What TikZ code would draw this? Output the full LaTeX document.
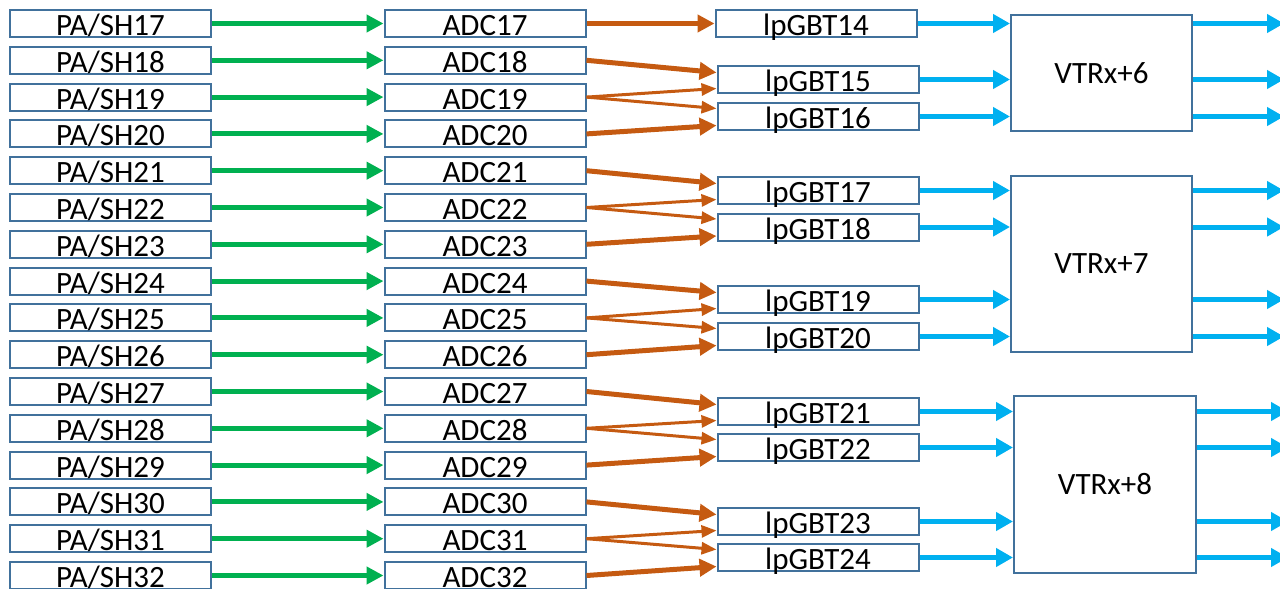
\documentclass[tikz,border=0pt]{standalone}
\usepackage{fontspec}
\setmainfont{Carlito}
\usepackage{tikz}
\usetikzlibrary{arrows.meta}
\definecolor{boxline}{HTML}{41719C}
\definecolor{padc}{HTML}{00B050}
\definecolor{adclp}{HTML}{C55A11}
\definecolor{optlink}{HTML}{00B0F0}

\begin{document}
\begin{tikzpicture}[x=1pt, y=-1pt,
  chipbox/.style={draw=boxline, line width=2pt, fill=white, minimum width=201pt,
    minimum height=27pt, inner sep=0pt, text height=24pt, text depth=0pt,
    font=\fontsize{31}{31}\selectfont},
  vtrxbox/.style={draw=boxline, line width=2pt, fill=white, inner sep=0pt,
    font=\fontsize{31}{31}\selectfont},
  greenarr/.style={-{Triangle[length=17pt, width=17pt]}, line width=5pt, padc},
  brownarr/.style={-{Triangle[length=17pt, width=17pt]}, line width=5pt, adclp},
  brownthin/.style={-{Triangle[length=15pt, width=12pt]}, line width=3pt, adclp},
  bluearr/.style={-{Triangle[length=17pt, width=18pt]}, line width=5pt, optlink}]
\useasboundingbox (0, 0) rectangle (1280, 589);
\clip (0, 0) rectangle (1280, 589);
% front end and digitisers
\foreach \i in {17,...,32} {
  \node[chipbox] (pa\i) at (110.5, {23.5+(\i-17)*36.8}) {PA/SH\i};
  \node[chipbox] (adc\i) at (485, {23.5+(\i-17)*36.8}) {ADC\i};
  \draw[greenarr] (pa\i) -- (adc\i);
}
% lpGBTs
\foreach \n/\y in {15/79.5, 16/116.5, 17/190.5, 18/227, 19/299.5, 20/336.5,
                   21/411.5, 22/447.5, 23/521.5, 24/557.5}
  \node[chipbox] (lp\n) at (818, \y) {lpGBT\n};
\node[chipbox] (lp14) at (816, 23.5) {lpGBT14};
% VTRx+
\node[vtrxbox, minimum width=181pt, minimum height=116pt] (vtrx6) at (1101.5, 73) {VTRx+6};
\node[vtrxbox, minimum width=181pt, minimum height=176pt] (vtrx7) at (1101.5, 264) {VTRx+7};
\node[vtrxbox, minimum width=182pt, minimum height=177pt] (vtrx8) at (1105, 484.5) {VTRx+8};
% ADC -> lpGBT
\draw[brownarr] (adc17) -- (lp14);
\foreach \ta/\tb/\tc/\ga/\gb in {18/19/20/15/16, 21/22/23/17/18, 24/25/26/19/20,
                                 27/28/29/21/22, 30/31/32/23/24} {
  \draw[brownarr] (adc\ta.east) -- ([yshift=7pt]lp\ga.west);
  \draw[brownthin] (adc\tb.east) -- ([yshift=-9pt]lp\ga.west);
  \draw[brownthin] (adc\tb.east) -- ([yshift=8pt]lp\gb.west);
  \draw[brownarr] (adc\tc.east) -- ([yshift=-9pt]lp\gb.west);
}
% lpGBT -> VTRx+ -> out
\foreach \g/\v in {14/6, 15/6, 16/6, 17/7, 18/7, 19/7, 20/7, 21/8, 22/8, 23/8, 24/8} {
  \draw[bluearr] (lp\g) -- (lp\g -| vtrx\v.west);
  \draw[bluearr] (lp\g -| vtrx\v.east) -- ++(91, 0);
}
\end{tikzpicture}
\end{document}
